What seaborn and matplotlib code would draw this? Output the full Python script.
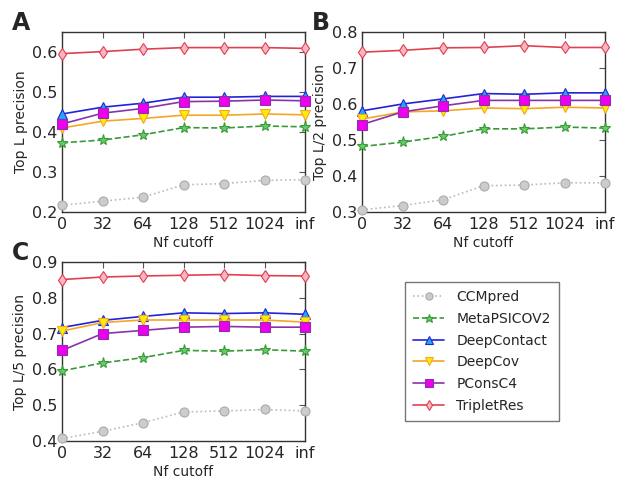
import matplotlib
matplotlib.use("Agg")
import matplotlib.pyplot as plt
import seaborn as sns
import pandas as pd

# Nf cutoff categories (x axis)
cutoffs = ['0', '32', '64', '128', '512', '1024', 'inf']
methods = ['CCMpred', 'MetaPSICOV2', 'DeepContact', 'DeepCov', 'PConsC4', 'TripletRes']

# Top L precision
top_l = {
    'CCMpred':     [0.217, 0.227, 0.237, 0.268, 0.271, 0.279, 0.281],
    'MetaPSICOV2': [0.373, 0.380, 0.393, 0.411, 0.410, 0.415, 0.413],
    'DeepContact': [0.445, 0.462, 0.472, 0.487, 0.487, 0.489, 0.489],
    'DeepCov':     [0.410, 0.427, 0.434, 0.442, 0.442, 0.445, 0.443],
    'PConsC4':     [0.420, 0.447, 0.459, 0.476, 0.477, 0.480, 0.478],
    'TripletRes':  [0.596, 0.601, 0.607, 0.611, 0.611, 0.611, 0.609],
}
# Top L/2 precision
top_l2 = {
    'CCMpred':     [0.306, 0.318, 0.334, 0.373, 0.375, 0.381, 0.381],
    'MetaPSICOV2': [0.482, 0.494, 0.510, 0.531, 0.531, 0.536, 0.533],
    'DeepContact': [0.581, 0.600, 0.614, 0.629, 0.627, 0.631, 0.631],
    'DeepCov':     [0.558, 0.578, 0.581, 0.589, 0.587, 0.591, 0.589],
    'PConsC4':     [0.543, 0.578, 0.595, 0.610, 0.610, 0.610, 0.610],
    'TripletRes':  [0.744, 0.749, 0.756, 0.757, 0.762, 0.757, 0.757],
}
# Top L/5 precision
top_l5 = {
    'CCMpred':     [0.407, 0.427, 0.451, 0.481, 0.484, 0.488, 0.484],
    'MetaPSICOV2': [0.596, 0.618, 0.633, 0.653, 0.651, 0.655, 0.651],
    'DeepContact': [0.717, 0.737, 0.748, 0.758, 0.756, 0.758, 0.754],
    'DeepCov':     [0.707, 0.731, 0.738, 0.738, 0.738, 0.738, 0.732],
    'PConsC4':     [0.653, 0.700, 0.709, 0.718, 0.720, 0.718, 0.718],
    'TripletRes':  [0.851, 0.858, 0.861, 0.863, 0.865, 0.862, 0.861],
}

# style per method: line colour, linestyle, marker, marker face colour
styles = {
    'CCMpred':     dict(color='#bbbbbb', ls=':', marker='o', mfc='#cccccc', mec='#aaaaaa'),
    'MetaPSICOV2': dict(color='#3a9a3a', ls='--', marker='*', mfc='#66cc66', mec='#3a9a3a'),
    'DeepContact': dict(color='#2222dd', ls='-', marker='^', mfc='#22aaee', mec='#2222dd'),
    'DeepCov':     dict(color='#f5a623', ls='-', marker='v', mfc='#ffee00', mec='#f5a623'),
    'PConsC4':     dict(color='#8833aa', ls='-', marker='s', mfc='#ee00ee', mec='#8833aa'),
    'TripletRes':  dict(color='#e04050', ls='-', marker='d', mfc='#f7b6c2', mec='#e04050'),
}

sns.set_style('white')
plt.rcParams['font.family'] = ['DejaVu Sans']

fig = plt.figure(figsize=(6.17, 4.79), dpi=100)
W, H = 617, 479

def add_axes(x0, y0, x1, y1):
    return fig.add_axes([x0 / W, 1 - y1 / H, (x1 - x0) / W, (y1 - y0) / H])

panels = [
    (add_axes(62, 32, 305, 212), top_l, 'Top L precision', (0.2, 0.65), [0.2, 0.3, 0.4, 0.5, 0.6], 'A', 12),
    (add_axes(362, 32, 605, 212), top_l2, 'Top L/2 precision', (0.3, 0.8), [0.3, 0.4, 0.5, 0.6, 0.7, 0.8], 'B', 312),
    (add_axes(62, 262, 305, 441), top_l5, 'Top L/5 precision', (0.4, 0.9), [0.4, 0.5, 0.6, 0.7, 0.8, 0.9], 'C', 12),
]

for ax, data, ylab, ylim, yt, letter, lx in panels:
    for m in methods:
        df = pd.DataFrame({'x': range(len(cutoffs)), 'y': data[m]})
        st = styles[m]
        sns.lineplot(data=df, x='x', y='y', ax=ax, color=st['color'], linestyle=st['ls'],
                     marker=st['marker'], markerfacecolor=st['mfc'], markeredgecolor=st['mec'],
                     markersize=8 if st['marker'] == '*' else 6.5, markeredgewidth=0.8,
                     linewidth=1.2, label=m, legend=False, clip_on=False, zorder=3)
    ax.set_xlim(0, len(cutoffs) - 1)
    ax.set_ylim(*ylim)
    ax.set_xticks(range(len(cutoffs)))
    ax.set_xticklabels(cutoffs)
    ax.set_yticks(yt)
    ax.set_yticklabels([f'{v:.1f}' for v in yt])
    ax.tick_params(direction='in', top=True, right=True, length=4, labelsize=11.5, pad=3.5,
                   color='#555555')
    ax.set_xlabel('Nf cutoff', fontsize=10, labelpad=3)
    ax.set_ylabel(ylab, fontsize=10, labelpad=3)
    for sp in ax.spines.values():
        sp.set_color('#333333')
        sp.set_linewidth(1.0)
    top_px = 32 if letter != 'C' else 262
    fig.text(lx / W, 1 - (top_px - 9) / H, letter, fontsize=17, fontweight='bold',
             ha='left', va='center')

handles, labels = panels[0][0].get_legend_handles_labels()
fig.legend(handles, labels, loc='upper left', bbox_to_anchor=(405 / W, 1 - 282 / H),
           borderaxespad=0, fontsize=10, frameon=True, fancybox=False, edgecolor='#555555',
           handlelength=2.2, handletextpad=0.9, borderpad=0.6, labelspacing=0.55,
           markerscale=0.8)

fig.savefig('out.png', dpi=100)
